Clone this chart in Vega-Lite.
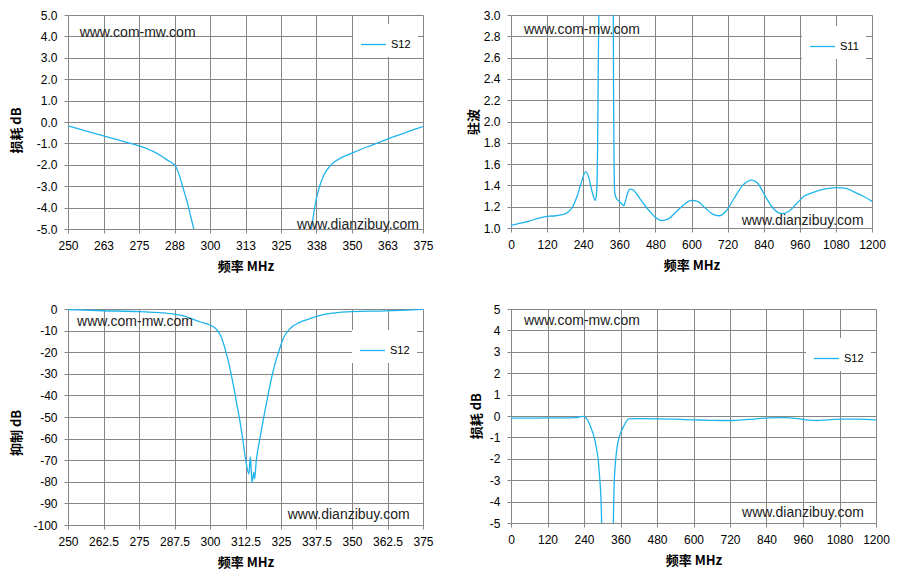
{
  "$schema": "https://vega.github.io/schema/vega-lite/v6.json",
  "padding": {"left": 10, "top": 9, "right": 5, "bottom": 5},
  "background": "white",
  "config": {
    "locale": {"number": {"decimal": ".", "thousands": ",", "grouping": [3], "currency": ["$", ""], "minus": "-"}},
    "view": {"stroke": null},
    "axis": {
      "labelFont": "Liberation Sans", "labelFontSize": 12, "labelColor": "#000000",
      "labelOverlap": false, "labelFlush": false, "labelPadding": 7,
      "tickSize": 4, "tickColor": "#868686", "domainColor": "#868686",
      "gridColor": "#868686", "gridOpacity": 1, "gridWidth": 1,
      "titleFont": "Noto Sans CJK SC", "titleFontSize": 13, "titleFontWeight": "bold",
      "titleColor": "#000000", "titleBaseline": "middle"
    },
    "legend": {
      "orient": "none", "title": null, "fillColor": "white", "padding": 7,
      "symbolType": "stroke", "symbolSize": 625, "symbolStrokeWidth": 1.3,
      "labelFont": "Liberation Sans", "labelFontSize": 11, "labelColor": "#000000", "labelOffset": 4
    }
  },
  "datasets": {
    "p1": [
      {"f": 250, "v": -0.18, "series": "S12", "seg": "a"},
      {"f": 255, "v": -0.37, "series": "S12", "seg": "a"},
      {"f": 260, "v": -0.56, "series": "S12", "seg": "a"},
      {"f": 265, "v": -0.74, "series": "S12", "seg": "a"},
      {"f": 270, "v": -0.93, "series": "S12", "seg": "a"},
      {"f": 275, "v": -1.12, "series": "S12", "seg": "a"},
      {"f": 278, "v": -1.26, "series": "S12", "seg": "a"},
      {"f": 280, "v": -1.37, "series": "S12", "seg": "a"},
      {"f": 283, "v": -1.6, "series": "S12", "seg": "a"},
      {"f": 285, "v": -1.78, "series": "S12", "seg": "a"},
      {"f": 287, "v": -1.95, "series": "S12", "seg": "a"},
      {"f": 288, "v": -2.1, "series": "S12", "seg": "a"},
      {"f": 289, "v": -2.4, "series": "S12", "seg": "a"},
      {"f": 290, "v": -2.85, "series": "S12", "seg": "a"},
      {"f": 291, "v": -3.3, "series": "S12", "seg": "a"},
      {"f": 292, "v": -3.75, "series": "S12", "seg": "a"},
      {"f": 293, "v": -4.3, "series": "S12", "seg": "a"},
      {"f": 294.3, "v": -5.0, "series": "S12", "seg": "a"},
      {"f": 335.7, "v": -5.0, "series": "S12", "seg": "b"},
      {"f": 336.5, "v": -4.3, "series": "S12", "seg": "b"},
      {"f": 337.5, "v": -3.55, "series": "S12", "seg": "b"},
      {"f": 338.5, "v": -3.05, "series": "S12", "seg": "b"},
      {"f": 340, "v": -2.5, "series": "S12", "seg": "b"},
      {"f": 342, "v": -2.1, "series": "S12", "seg": "b"},
      {"f": 344, "v": -1.85, "series": "S12", "seg": "b"},
      {"f": 347, "v": -1.62, "series": "S12", "seg": "b"},
      {"f": 350, "v": -1.45, "series": "S12", "seg": "b"},
      {"f": 355, "v": -1.18, "series": "S12", "seg": "b"},
      {"f": 360, "v": -0.93, "series": "S12", "seg": "b"},
      {"f": 365, "v": -0.67, "series": "S12", "seg": "b"},
      {"f": 370, "v": -0.44, "series": "S12", "seg": "b"},
      {"f": 375, "v": -0.21, "series": "S12", "seg": "b"}
    ],
    "p2": [
      {"f": 0, "v": 1.025, "series": "S11", "seg": "a"},
      {"f": 30, "v": 1.045, "series": "S11", "seg": "a"},
      {"f": 60, "v": 1.065, "series": "S11", "seg": "a"},
      {"f": 90, "v": 1.09, "series": "S11", "seg": "a"},
      {"f": 120, "v": 1.11, "series": "S11", "seg": "a"},
      {"f": 150, "v": 1.115, "series": "S11", "seg": "a"},
      {"f": 170, "v": 1.125, "series": "S11", "seg": "a"},
      {"f": 190, "v": 1.15, "series": "S11", "seg": "a"},
      {"f": 205, "v": 1.2, "series": "S11", "seg": "a"},
      {"f": 220, "v": 1.3, "series": "S11", "seg": "a"},
      {"f": 235, "v": 1.44, "series": "S11", "seg": "a"},
      {"f": 248, "v": 1.53, "series": "S11", "seg": "a"},
      {"f": 258, "v": 1.48, "series": "S11", "seg": "a"},
      {"f": 268, "v": 1.36, "series": "S11", "seg": "a"},
      {"f": 276, "v": 1.28, "series": "S11", "seg": "a"},
      {"f": 281, "v": 1.26, "series": "S11", "seg": "a"},
      {"f": 285, "v": 1.35, "series": "S11", "seg": "a"},
      {"f": 288, "v": 1.8, "series": "S11", "seg": "a"},
      {"f": 290, "v": 2.5, "series": "S11", "seg": "a"},
      {"f": 292, "v": 3.0, "series": "S11", "seg": "a"},
      {"f": 340, "v": 3.0, "series": "S11", "seg": "b"},
      {"f": 341, "v": 2.2, "series": "S11", "seg": "b"},
      {"f": 343, "v": 1.5, "series": "S11", "seg": "b"},
      {"f": 345, "v": 1.33, "series": "S11", "seg": "b"},
      {"f": 350, "v": 1.28, "series": "S11", "seg": "b"},
      {"f": 360, "v": 1.25, "series": "S11", "seg": "b"},
      {"f": 370, "v": 1.22, "series": "S11", "seg": "b"},
      {"f": 375, "v": 1.21, "series": "S11", "seg": "b"},
      {"f": 380, "v": 1.25, "series": "S11", "seg": "b"},
      {"f": 388, "v": 1.33, "series": "S11", "seg": "b"},
      {"f": 396, "v": 1.365, "series": "S11", "seg": "b"},
      {"f": 405, "v": 1.36, "series": "S11", "seg": "b"},
      {"f": 420, "v": 1.31, "series": "S11", "seg": "b"},
      {"f": 440, "v": 1.23, "series": "S11", "seg": "b"},
      {"f": 460, "v": 1.16, "series": "S11", "seg": "b"},
      {"f": 480, "v": 1.1, "series": "S11", "seg": "b"},
      {"f": 500, "v": 1.07, "series": "S11", "seg": "b"},
      {"f": 520, "v": 1.08, "series": "S11", "seg": "b"},
      {"f": 545, "v": 1.14, "series": "S11", "seg": "b"},
      {"f": 575, "v": 1.22, "series": "S11", "seg": "b"},
      {"f": 600, "v": 1.26, "series": "S11", "seg": "b"},
      {"f": 620, "v": 1.25, "series": "S11", "seg": "b"},
      {"f": 645, "v": 1.19, "series": "S11", "seg": "b"},
      {"f": 670, "v": 1.13, "series": "S11", "seg": "b"},
      {"f": 692, "v": 1.115, "series": "S11", "seg": "b"},
      {"f": 715, "v": 1.16, "series": "S11", "seg": "b"},
      {"f": 740, "v": 1.27, "series": "S11", "seg": "b"},
      {"f": 770, "v": 1.4, "series": "S11", "seg": "b"},
      {"f": 800, "v": 1.45, "series": "S11", "seg": "b"},
      {"f": 820, "v": 1.42, "series": "S11", "seg": "b"},
      {"f": 845, "v": 1.3, "series": "S11", "seg": "b"},
      {"f": 870, "v": 1.19, "series": "S11", "seg": "b"},
      {"f": 900, "v": 1.135, "series": "S11", "seg": "b"},
      {"f": 925, "v": 1.16, "series": "S11", "seg": "b"},
      {"f": 950, "v": 1.23, "series": "S11", "seg": "b"},
      {"f": 975, "v": 1.3, "series": "S11", "seg": "b"},
      {"f": 1000, "v": 1.33, "series": "S11", "seg": "b"},
      {"f": 1040, "v": 1.365, "series": "S11", "seg": "b"},
      {"f": 1080, "v": 1.38, "series": "S11", "seg": "b"},
      {"f": 1110, "v": 1.375, "series": "S11", "seg": "b"},
      {"f": 1140, "v": 1.34, "series": "S11", "seg": "b"},
      {"f": 1170, "v": 1.3, "series": "S11", "seg": "b"},
      {"f": 1200, "v": 1.25, "series": "S11", "seg": "b"}
    ],
    "p3": [
      {"f": 250, "v": -0.3, "series": "S12", "seg": "a"},
      {"f": 262.5, "v": -0.8, "series": "S12", "seg": "a"},
      {"f": 275, "v": -1.2, "series": "S12", "seg": "a"},
      {"f": 281, "v": -1.6, "series": "S12", "seg": "a"},
      {"f": 287, "v": -2.3, "series": "S12", "seg": "a"},
      {"f": 290, "v": -3.0, "series": "S12", "seg": "a"},
      {"f": 293, "v": -4.2, "series": "S12", "seg": "a"},
      {"f": 296.4, "v": -5.9, "series": "S12", "seg": "a"},
      {"f": 299.9, "v": -7.4, "series": "S12", "seg": "a"},
      {"f": 302.2, "v": -9.3, "series": "S12", "seg": "a"},
      {"f": 304, "v": -13.1, "series": "S12", "seg": "a"},
      {"f": 305.2, "v": -18, "series": "S12", "seg": "a"},
      {"f": 306.5, "v": -24.5, "series": "S12", "seg": "a"},
      {"f": 307.9, "v": -33, "series": "S12", "seg": "a"},
      {"f": 309.3, "v": -43, "series": "S12", "seg": "a"},
      {"f": 310.5, "v": -51.7, "series": "S12", "seg": "a"},
      {"f": 311.6, "v": -61, "series": "S12", "seg": "a"},
      {"f": 312.6, "v": -70.2, "series": "S12", "seg": "a"},
      {"f": 313.7, "v": -76.4, "series": "S12", "seg": "a"},
      {"f": 314.2, "v": -68.4, "series": "S12", "seg": "a"},
      {"f": 314.8, "v": -80.3, "series": "S12", "seg": "a"},
      {"f": 315.4, "v": -75.6, "series": "S12", "seg": "a"},
      {"f": 315.7, "v": -78.6, "series": "S12", "seg": "a"},
      {"f": 316.3, "v": -70.2, "series": "S12", "seg": "a"},
      {"f": 317.5, "v": -60.5, "series": "S12", "seg": "a"},
      {"f": 318.7, "v": -51.7, "series": "S12", "seg": "a"},
      {"f": 320, "v": -42.7, "series": "S12", "seg": "a"},
      {"f": 321.6, "v": -32.4, "series": "S12", "seg": "a"},
      {"f": 323, "v": -24.8, "series": "S12", "seg": "a"},
      {"f": 324.5, "v": -18.5, "series": "S12", "seg": "a"},
      {"f": 325.7, "v": -13.9, "series": "S12", "seg": "a"},
      {"f": 328, "v": -9.3, "series": "S12", "seg": "a"},
      {"f": 331.6, "v": -6.2, "series": "S12", "seg": "a"},
      {"f": 334, "v": -5.0, "series": "S12", "seg": "a"},
      {"f": 337.4, "v": -3.5, "series": "S12", "seg": "a"},
      {"f": 340, "v": -2.6, "series": "S12", "seg": "a"},
      {"f": 343.3, "v": -1.9, "series": "S12", "seg": "a"},
      {"f": 350, "v": -1.2, "series": "S12", "seg": "a"},
      {"f": 362, "v": -0.9, "series": "S12", "seg": "a"},
      {"f": 375, "v": -0.2, "series": "S12", "seg": "a"}
    ],
    "p4": [
      {"f": 0, "v": -0.1, "series": "S12", "seg": "a"},
      {"f": 60, "v": -0.1, "series": "S12", "seg": "a"},
      {"f": 120, "v": -0.09, "series": "S12", "seg": "a"},
      {"f": 180, "v": -0.09, "series": "S12", "seg": "a"},
      {"f": 210, "v": -0.08, "series": "S12", "seg": "a"},
      {"f": 225, "v": -0.04, "series": "S12", "seg": "a"},
      {"f": 240, "v": -0.02, "series": "S12", "seg": "a"},
      {"f": 250, "v": -0.15, "series": "S12", "seg": "a"},
      {"f": 260, "v": -0.44, "series": "S12", "seg": "a"},
      {"f": 268, "v": -0.75, "series": "S12", "seg": "a"},
      {"f": 276, "v": -1.14, "series": "S12", "seg": "a"},
      {"f": 282, "v": -1.6, "series": "S12", "seg": "a"},
      {"f": 287, "v": -2.08, "series": "S12", "seg": "a"},
      {"f": 291, "v": -2.8, "series": "S12", "seg": "a"},
      {"f": 295, "v": -3.63, "series": "S12", "seg": "a"},
      {"f": 297, "v": -4.4, "series": "S12", "seg": "a"},
      {"f": 298, "v": -5.0, "series": "S12", "seg": "a"},
      {"f": 336.4, "v": -5.0, "series": "S12", "seg": "b"},
      {"f": 338, "v": -3.8, "series": "S12", "seg": "b"},
      {"f": 340, "v": -2.9, "series": "S12", "seg": "b"},
      {"f": 342, "v": -2.4, "series": "S12", "seg": "b"},
      {"f": 347, "v": -1.65, "series": "S12", "seg": "b"},
      {"f": 353, "v": -1.14, "series": "S12", "seg": "b"},
      {"f": 360, "v": -0.8, "series": "S12", "seg": "b"},
      {"f": 369, "v": -0.52, "series": "S12", "seg": "b"},
      {"f": 378, "v": -0.28, "series": "S12", "seg": "b"},
      {"f": 386, "v": -0.13, "series": "S12", "seg": "b"},
      {"f": 420, "v": -0.12, "series": "S12", "seg": "b"},
      {"f": 480, "v": -0.13, "series": "S12", "seg": "b"},
      {"f": 540, "v": -0.15, "series": "S12", "seg": "b"},
      {"f": 605, "v": -0.18, "series": "S12", "seg": "b"},
      {"f": 660, "v": -0.2, "series": "S12", "seg": "b"},
      {"f": 720, "v": -0.21, "series": "S12", "seg": "b"},
      {"f": 780, "v": -0.16, "series": "S12", "seg": "b"},
      {"f": 850, "v": -0.09, "series": "S12", "seg": "b"},
      {"f": 900, "v": -0.08, "series": "S12", "seg": "b"},
      {"f": 940, "v": -0.12, "series": "S12", "seg": "b"},
      {"f": 980, "v": -0.19, "series": "S12", "seg": "b"},
      {"f": 1005, "v": -0.21, "series": "S12", "seg": "b"},
      {"f": 1040, "v": -0.18, "series": "S12", "seg": "b"},
      {"f": 1080, "v": -0.15, "series": "S12", "seg": "b"},
      {"f": 1140, "v": -0.15, "series": "S12", "seg": "b"},
      {"f": 1200, "v": -0.18, "series": "S12", "seg": "b"}
    ],
    "wm1": [{"site": "www.com-mw.com"}],
    "wm2": [{"site": "www.dianzibuy.com"}]
  },
  "columns": 2,
  "spacing": {"row": 80, "column": 88},
  "bounds": "flush",
  "align": "each",
  "resolve": {"scale": {"color": "independent"}, "legend": {"color": "independent"}},
  "concat": [
    {
      "width": 355, "height": 214,
      "layer": [
        {
          "data": {"name": "p1"},
          "mark": {"type": "line", "interpolate": "monotone", "strokeWidth": 1.3, "clip": true},
          "encoding": {
            "x": {"field": "f", "type": "quantitative", "scale": {"domain": [250, 375], "nice": false, "zero": false},
                  "axis": {"values": [250, 262.5, 275, 287.5, 300, 312.5, 325, 337.5, 350, 362.5, 375], "format": ".0f", "title": "频率 MHz", "titleY": 37}},
            "y": {"field": "v", "type": "quantitative", "scale": {"domain": [-5, 5], "nice": false, "zero": false},
                  "axis": {"values": [-5, -4, -3, -2, -1, 0, 1, 2, 3, 4, 5], "format": ".1f", "title": "损耗 dB", "titleX": -51.6, "titleY": 115}},
            "color": {"field": "series", "type": "nominal", "scale": {"range": ["#1fb4ec"]}, "legend": {"legendX": 285, "legendY": 9}},
            "detail": {"field": "seg"}
          }
        },
        {
          "data": {"name": "wm1"},
          "mark": {"type": "text", "font": "Liberation Sans", "fontSize": 14, "align": "left", "baseline": "middle", "color": "#222222"},
          "encoding": {"text": {"field": "site"},
            "x": {"datum": 254.1, "type": "quantitative", "axis": {"values": [250, 262.5, 275, 287.5, 300, 312.5, 325, 337.5, 350, 362.5, 375], "format": ".0f", "title": "频率 MHz", "titleY": 37}},
            "y": {"datum": 4.15, "type": "quantitative", "axis": {"values": [-5, -4, -3, -2, -1, 0, 1, 2, 3, 4, 5], "format": ".1f", "title": "损耗 dB", "titleX": -51.6, "titleY": 115}}}
        },
        {
          "data": {"name": "wm2"},
          "mark": {"type": "text", "font": "Liberation Sans", "fontSize": 14, "align": "right", "baseline": "middle", "color": "#222222"},
          "encoding": {"text": {"field": "site"},
            "x": {"datum": 373.6, "type": "quantitative", "axis": {"values": [250, 262.5, 275, 287.5, 300, 312.5, 325, 337.5, 350, 362.5, 375], "format": ".0f", "title": "频率 MHz", "titleY": 37}},
            "y": {"datum": -4.8, "type": "quantitative", "axis": {"values": [-5, -4, -3, -2, -1, 0, 1, 2, 3, 4, 5], "format": ".1f", "title": "损耗 dB", "titleX": -51.6, "titleY": 115}}}
        }
      ]
    },
    {
      "width": 361, "height": 213,
      "layer": [
        {
          "data": {"name": "p2"},
          "mark": {"type": "line", "interpolate": "monotone", "strokeWidth": 1.3, "clip": true},
          "encoding": {
            "x": {"field": "f", "type": "quantitative", "scale": {"domain": [0, 1200], "nice": false, "zero": false},
                  "axis": {"values": [0, 120, 240, 360, 480, 600, 720, 840, 960, 1080, 1200], "format": "d", "title": "频率 MHz", "titleY": 37}},
            "y": {"field": "v", "type": "quantitative", "scale": {"domain": [1, 3], "nice": false, "zero": false},
                  "axis": {"values": [1, 1.2, 1.4, 1.6, 1.8, 2, 2.2, 2.4, 2.6, 2.8, 3], "format": ".1f", "title": "驻波", "titleX": -37.7, "titleY": 106.5}},
            "color": {"field": "series", "type": "nominal", "scale": {"range": ["#1fb4ec"]}, "legend": {"legendX": 291, "legendY": 11}},
            "detail": {"field": "seg"}
          }
        },
        {
          "data": {"name": "wm1"},
          "mark": {"type": "text", "font": "Liberation Sans", "fontSize": 14, "align": "left", "baseline": "middle", "color": "#222222"},
          "encoding": {"text": {"field": "site"},
            "x": {"datum": 43, "type": "quantitative", "axis": {"values": [0, 120, 240, 360, 480, 600, 720, 840, 960, 1080, 1200], "format": "d", "title": "频率 MHz", "titleY": 37}},
            "y": {"datum": 2.86, "type": "quantitative", "axis": {"values": [1, 1.2, 1.4, 1.6, 1.8, 2, 2.2, 2.4, 2.6, 2.8, 3], "format": ".1f", "title": "驻波", "titleX": -37.7, "titleY": 106.5}}}
        },
        {
          "data": {"name": "wm2"},
          "mark": {"type": "text", "font": "Liberation Sans", "fontSize": 14, "align": "right", "baseline": "middle", "color": "#222222"},
          "encoding": {"text": {"field": "site"},
            "x": {"datum": 1172, "type": "quantitative", "axis": {"values": [0, 120, 240, 360, 480, 600, 720, 840, 960, 1080, 1200], "format": "d", "title": "频率 MHz", "titleY": 37}},
            "y": {"datum": 1.063, "type": "quantitative", "axis": {"values": [1, 1.2, 1.4, 1.6, 1.8, 2, 2.2, 2.4, 2.6, 2.8, 3], "format": ".1f", "title": "驻波", "titleX": -37.7, "titleY": 106.5}}}
        }
      ]
    },
    {
      "width": 355, "height": 216,
      "layer": [
        {
          "data": {"name": "p3"},
          "mark": {"type": "line", "interpolate": "monotone", "strokeWidth": 1.3, "clip": true},
          "encoding": {
            "x": {"field": "f", "type": "quantitative", "scale": {"domain": [250, 375], "nice": false, "zero": false},
                  "axis": {"values": [250, 262.5, 275, 287.5, 300, 312.5, 325, 337.5, 350, 362.5, 375], "format": ".1~f", "title": "频率 MHz", "titleY": 37}},
            "y": {"field": "v", "type": "quantitative", "scale": {"domain": [-100, 0], "nice": false, "zero": false},
                  "axis": {"values": [-100, -90, -80, -70, -60, -50, -40, -30, -20, -10, 0], "format": "d", "title": "抑制 dB", "titleX": -51.6, "titleY": 123.4}},
            "color": {"field": "series", "type": "nominal", "scale": {"range": ["#1fb4ec"]}, "legend": {"legendX": 284, "legendY": 21}},
            "detail": {"field": "seg"}
          }
        },
        {
          "data": {"name": "wm1"},
          "mark": {"type": "text", "font": "Liberation Sans", "fontSize": 14, "align": "left", "baseline": "middle", "color": "#222222"},
          "encoding": {"text": {"field": "site"},
            "x": {"datum": 253.2, "type": "quantitative", "axis": {"values": [250, 262.5, 275, 287.5, 300, 312.5, 325, 337.5, 350, 362.5, 375], "format": ".1~f", "title": "频率 MHz", "titleY": 37}},
            "y": {"datum": -6.2, "type": "quantitative", "axis": {"values": [-100, -90, -80, -70, -60, -50, -40, -30, -20, -10, 0], "format": "d", "title": "抑制 dB", "titleX": -51.6, "titleY": 123.4}}}
        },
        {
          "data": {"name": "wm2"},
          "mark": {"type": "text", "font": "Liberation Sans", "fontSize": 14, "align": "right", "baseline": "middle", "color": "#222222"},
          "encoding": {"text": {"field": "site"},
            "x": {"datum": 370.3, "type": "quantitative", "axis": {"values": [250, 262.5, 275, 287.5, 300, 312.5, 325, 337.5, 350, 362.5, 375], "format": ".1~f", "title": "频率 MHz", "titleY": 37}},
            "y": {"datum": -95.4, "type": "quantitative", "axis": {"values": [-100, -90, -80, -70, -60, -50, -40, -30, -20, -10, 0], "format": "d", "title": "抑制 dB", "titleX": -51.6, "titleY": 123.4}}}
        }
      ]
    },
    {
      "width": 365, "height": 214,
      "layer": [
        {
          "data": {"name": "p4"},
          "mark": {"type": "line", "interpolate": "monotone", "strokeWidth": 1.3, "clip": true},
          "encoding": {
            "x": {"field": "f", "type": "quantitative", "scale": {"domain": [0, 1200], "nice": false, "zero": false},
                  "axis": {"values": [0, 120, 240, 360, 480, 600, 720, 840, 960, 1080, 1200], "format": "d", "title": "频率 MHz", "titleY": 37}},
            "y": {"field": "v", "type": "quantitative", "scale": {"domain": [-5, 5], "nice": false, "zero": false},
                  "axis": {"values": [-5, -4, -3, -2, -1, 0, 1, 2, 3, 4, 5], "format": "d", "title": "损耗 dB", "titleX": -34.3, "titleY": 106.7}},
            "color": {"field": "series", "type": "nominal", "scale": {"range": ["#1fb4ec"]}, "legend": {"legendX": 295, "legendY": 29}},
            "detail": {"field": "seg"}
          }
        },
        {
          "data": {"name": "wm1"},
          "mark": {"type": "text", "font": "Liberation Sans", "fontSize": 14, "align": "left", "baseline": "middle", "color": "#222222"},
          "encoding": {"text": {"field": "site"},
            "x": {"datum": 42.7, "type": "quantitative", "axis": {"values": [0, 120, 240, 360, 480, 600, 720, 840, 960, 1080, 1200], "format": "d", "title": "频率 MHz", "titleY": 37}},
            "y": {"datum": 4.43, "type": "quantitative", "axis": {"values": [-5, -4, -3, -2, -1, 0, 1, 2, 3, 4, 5], "format": "d", "title": "损耗 dB", "titleX": -34.3, "titleY": 106.7}}}
        },
        {
          "data": {"name": "wm2"},
          "mark": {"type": "text", "font": "Liberation Sans", "fontSize": 14, "align": "right", "baseline": "middle", "color": "#222222"},
          "encoding": {"text": {"field": "site"},
            "x": {"datum": 1160.5, "type": "quantitative", "axis": {"values": [0, 120, 240, 360, 480, 600, 720, 840, 960, 1080, 1200], "format": "d", "title": "频率 MHz", "titleY": 37}},
            "y": {"datum": -4.53, "type": "quantitative", "axis": {"values": [-5, -4, -3, -2, -1, 0, 1, 2, 3, 4, 5], "format": "d", "title": "损耗 dB", "titleX": -34.3, "titleY": 106.7}}}
        }
      ]
    }
  ]
}
